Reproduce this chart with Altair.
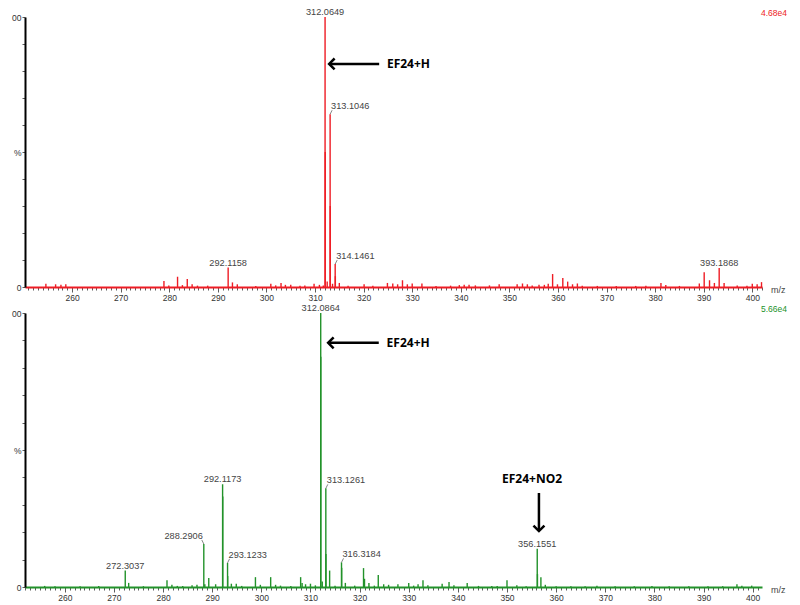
import math
import altair as alt
import pandas as pd

RED = "#ee1c24"
GREEN = "#22922a"

# ---------------- top spectrum (red) ----------------
top_mz = [254.6, 256.6, 257.7, 258.7, 278.9, 279.9, 281.7, 282.7, 283.7, 284.7,
          285.8, 287.9, 292.1158, 293.0, 294.0, 297.8, 300.9, 301.9, 303.0, 303.9,
          305.0, 306.9, 307.9, 309.8, 310.9, 311.7, 312.0649, 312.1, 312.5, 313.1046,
          313.13, 313.6, 314.1461, 314.18, 315.0, 316.8, 320.1, 321.9, 324.9, 326.0,
          327.0, 328.0, 329.0, 330.0, 332.0, 334.9, 337.9, 339.7, 340.7, 341.7,
          343.0, 345.9, 347.9, 351.6, 352.7, 353.7, 354.7, 356.1, 357.2, 358.0,
          358.9, 359.9, 361.0, 362.0, 363.0, 364.0, 365.0, 368.1, 372.0, 376.0,
          378.1, 381.2, 382.2, 385.0, 389.1, 390.1, 391.2, 392.2, 393.1868, 394.2,
          396.9, 398.9, 400.0, 401.0, 401.9]
top_int = [1.2, 1.0, 0.8, 1.0, 2.2, 0.6, 3.8, 0.7, 3.0, 1.0,
           0.5, 0.5, 7.2, 1.7, 1.0, 0.4, 1.2, 0.6, 1.5, 0.8,
           0.8, 0.5, 0.6, 1.2, 0.8, 0.6, 100, 50, 2.0, 64,
           30, 1.2, 8.5, 4.0, 1.5, 0.5, 1.0, 0.5, 1.5, 1.3,
           1.0, 2.5, 1.0, 1.3, 1.3, 0.4, 0.5, 0.7, 0.8, 0.8,
           0.6, 0.6, 1.0, 1.0, 1.3, 1.0, 0.6, 0.8, 0.8, 1.2,
           4.8, 1.0, 3.3, 2.0, 1.0, 1.3, 0.5, 0.4, 0.4, 0.4,
           0.5, 1.5, 0.7, 0.4, 1.3, 5.5, 2.5, 1.5, 7.0, 1.5,
           0.6, 0.5, 1.2, 1.0, 1.8]

top_lab_mz = [312.0649, 313.1046, 314.1461, 292.1158, 393.1868]
top_lab_int = [100, 64, 8.5, 7.2, 7.0]
top_lab_align = ["center", "left", "left", "center", "center"]
top_scale = "4.68e4"

# ---------------- bottom spectrum (green) ----------------
bot_mz = [255.9, 258.0, 263.1, 266.9, 272.3037, 273.0, 276.0, 280.8, 281.8, 282.9,
          284.0, 285.9, 286.9, 288.2906, 288.5, 289.3, 290.7, 292.1173, 292.15, 293.1233,
          293.15, 293.9, 294.9, 296.0, 298.8, 299.8, 301.9, 302.9, 303.9, 306.0,
          308.0, 308.3, 309.0, 310.0, 311.0, 312.0864, 312.1, 312.4, 313.1261, 313.15,
          313.9, 315.0, 316.3184, 316.35, 317.1, 319.0, 320.8, 321.0, 321.9, 323.0,
          323.8, 324.9, 325.9, 327.8, 330.0, 331.0, 331.9, 332.9, 333.9, 336.8,
          338.2, 339.2, 341.9, 344.2, 346.9, 348.0, 350.0, 352.0, 353.9, 356.1551,
          356.2, 356.9, 357.8, 360.0, 363.0, 365.9, 368.3, 372.0, 375.9, 379.5,
          383.0, 387.0, 390.9, 393.9, 396.8, 397.8, 399.8]
bot_int = [0.4, 0.3, 0.3, 0.4, 6.0, 1.5, 0.3, 2.5, 0.8, 0.4,
           0.4, 0.6, 0.8, 15.7, 1.0, 3.3, 1.0, 37.5, 33, 8.8,
           4.0, 1.2, 1.2, 0.4, 3.6, 0.8, 3.6, 0.8, 0.5, 0.4,
           3.6, 1.5, 1.0, 1.2, 0.6, 100, 84, 2.0, 36, 12,
           6.0, 0.5, 9.0, 7.0, 1.5, 0.5, 6.9, 3.0, 1.5, 0.5,
           4.4, 1.0, 0.8, 1.0, 1.5, 0.5, 1.0, 2.5, 0.6, 1.2,
           1.8, 0.6, 1.5, 0.4, 0.4, 0.4, 2.5, 0.6, 0.3, 14.0,
           4.7, 3.6, 0.8, 0.3, 0.3, 0.3, 0.5, 0.3, 0.3, 0.4,
           0.3, 0.3, 0.3, 0.3, 1.0, 0.5, 0.5]

bot_lab_mz = [312.0864, 313.1261, 292.1173, 288.2906, 293.1233, 316.3184, 272.3037, 356.1551]
bot_lab_int = [100, 36, 37.5, 15.7, 8.8, 9.0, 6.0, 14.0]
bot_lab_align = ["center", "left", "center", "right", "left", "left", "center", "center"]
bot_scale = "5.66e4"

# ---------------- annotations ----------------
top_harrow = {"tip": [312.9], "tail": [323.2], "y": [82.6]}
top_notes = {"x": [324.8], "y": [82.6], "txt": ["EF24+H"], "align": ["left"]}

bot_harrow = {"tip": [313.6], "tail": [323.9], "y": [89.1]}
bot_varrow = {"x": [356.5], "tail": [34.3], "tip": [20.4]}
bot_notes = {"x": [325.5, 355.1], "y": [89.1, 39.4], "txt": ["EF24+H", "EF24+NO2"],
             "align": ["left", "center"]}

W = 737
FONT = "Liberation Sans"


def panel(mz, inten, lab_mz, lab_int, lab_align, color, scale_txt, domain, height,
          harrow, notes, varrow=None):
    xs = alt.Scale(domain=domain, nice=False, zero=False)
    ys = alt.Scale(domain=[0, 100], nice=False)
    lo, hi = math.ceil(domain[0]), math.floor(domain[1])
    xaxis = alt.Axis(
        title=None, grid=False,
        values=list(range(lo, hi + 1)),
        labelExpr="datum.value % 10 === 0 ? datum.label : ''",
        tickSize={"condition": {"test": "datum.value % 10 === 0", "value": 5}, "value": 3},
        tickColor="#333", tickWidth=0.8,
        domainColor=color, domainWidth=2,
        labelFont=FONT, labelFontSize=8.5, labelColor="#333",
        labelPadding=1, labelOverlap=False, labelFlush=False, labelBound=False,
    )
    yaxis = alt.Axis(
        title=None, grid=False,
        values=list(range(0, 101, 10)),
        labelExpr="datum.value === 100 ? '00' : datum.value === 50 ? '%' : datum.value === 0 ? '0' : ''",
        tickSize=3, tickColor="#333", tickWidth=0.8,
        domainColor="black", domainWidth=2,
        labelFont=FONT, labelFontSize=8.5, labelColor="#333",
        labelPadding=1, labelOverlap=False, labelFlush=False, labelBound=False,
    )

    def X(f):
        return alt.X(f, type="quantitative", scale=xs, axis=xaxis)

    def Y(f):
        return alt.Y(f, type="quantitative", scale=ys, axis=yaxis)

    spec = pd.DataFrame({"mz": mz, "pct": inten})
    peaks = alt.Chart(spec).mark_rule(color=color, strokeWidth=1.4).encode(
        x=X("mz"), y=Y("pct"), y2=alt.datum(0),
    )

    labdf = pd.DataFrame({
        "mz": lab_mz, "pct": lab_int,
        "txt": [f"{m:.4f}" for m in lab_mz], "align": lab_align,
    })
    layers = [peaks]
    for a, dx, dy, lx in [("center", 0, 0, 0), ("left", 1, -3, 2), ("right", -1, -3, -2)]:
        sub = alt.Chart(labdf).transform_filter(f"datum.align == '{a}'")
        layers.append(
            sub.mark_text(align=a, baseline="bottom", dx=dx, dy=dy, fontSize=9.2,
                          font=FONT, color="#444")
            .encode(x=X("mz"), y=Y("pct"), text="txt:N")
        )
        if lx != 0:
            # small leader line from the peak top up to its label
            layers.append(
                sub.mark_rule(color="#666", strokeWidth=0.8, x2Offset=lx, y2Offset=-4)
                .encode(x=X("mz"), y=Y("pct"), x2="mz:Q", y2="pct:Q")
            )

    ha = pd.DataFrame(harrow)
    layers.append(alt.Chart(ha).mark_rule(color="black", strokeWidth=2.5).encode(
        x=X("tip"), x2="tail:Q", y=Y("y")))
    layers.append(alt.Chart(ha).mark_point(
        shape="M1,-1L0,0L1,1", size=120, filled=False, strokeWidth=2.5,
        color="black", opacity=1).encode(x=X("tip"), y=Y("y")))

    if varrow is not None:
        va = pd.DataFrame(varrow)
        layers.append(alt.Chart(va).mark_rule(color="black", strokeWidth=2.5).encode(
            x=X("x"), y=Y("tail"), y2="tip:Q"))
        layers.append(alt.Chart(va).mark_point(
            shape="M-1,-1L0,0L1,-1", size=120, filled=False, strokeWidth=2.5,
            color="black", opacity=1).encode(x=X("x"), y=Y("tip")))

    nd = pd.DataFrame(notes)
    for a in ["left", "center"]:
        layers.append(
            alt.Chart(nd).transform_filter(f"datum.align == '{a}'")
            .mark_text(align=a, baseline="middle", fontSize=12, fontWeight="bold",
                       font="Open Sans", color="black")
            .encode(x=X("x"), y=Y("y"), text="txt:N")
        )

    layers.append(alt.Chart(pd.DataFrame({"t": [scale_txt]})).mark_text(
        align="right", baseline="middle", fontSize=8.5, font=FONT, color=color).encode(
        x=alt.value(W + 25), y=alt.value(-4), text="t:N"))
    layers.append(alt.Chart(pd.DataFrame({"t": ["m/z"]})).mark_text(
        align="left", baseline="middle", fontSize=9, font=FONT, color="#444").encode(
        x=alt.value(W + 9), y=alt.value(height + 3), text="t:N"))

    return alt.layer(*layers).properties(width=W, height=height)


top = panel(top_mz, top_int, top_lab_mz, top_lab_int, top_lab_align, RED, top_scale,
            [250.3, 402.0], 270, top_harrow, top_notes)
bottom = panel(bot_mz, bot_int, bot_lab_mz, bot_lab_int, bot_lab_align, GREEN, bot_scale,
               [251.9, 401.9], 274, bot_harrow, bot_notes, bot_varrow)

chart = alt.vconcat(top, bottom, spacing=2).properties(
    padding={"left": 3, "top": 0, "right": 0, "bottom": 0}
).configure_view(stroke=None)

chart.save("out.html", embed_options={"renderer": "svg", "actions": False})
